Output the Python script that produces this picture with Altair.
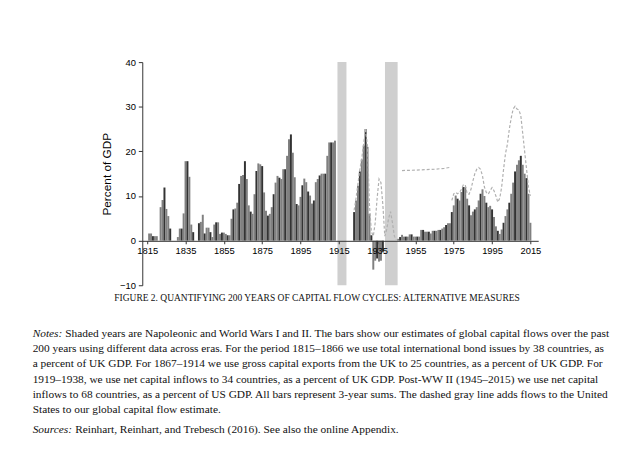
import altair as alt
import pandas as pd

# ---- data ----
years = list(range(1815, 2016))
bar_values = [
    # 1815-1824
    0, 1.6, 1.6, 1.0, 1.0, 1.0, 0, 7.5, 9.1, 11.9,
    # 1825-1834
    7.1, 5.5, 2.7, 0, 0, 0, 0.8, 2.7, 2.7, 6.1,
    # 1835-1844
    17.8, 17.8, 14.3, 3.6, 1.9, 0, 0, 3.9, 4.2, 5.8,
    # 1845-1854
    1.6, 2.9, 2.9, 1.9, 0.8, 3.6, 4.1, 4.1, 1.5, 1.8,
    # 1855-1864
    1.8, 1.5, 1.2, 1.2, 4.9, 7.0, 7.2, 8.5, 12.7, 14.5,
    # 1865-1874
    14.7, 17.8, 13.8, 7.9, 6.5, 6.0, 10.4, 15.6, 17.3, 17.1,
    # 1875-1884
    16.7, 10.8, 6.7, 5.6, 6.0, 7.5, 10.4, 13.0, 14.5, 14.1,
    # 1885-1894
    13.8, 16.0, 16.0, 19.0, 22.7, 23.8, 19.7, 14.2, 8.2, 7.9,
    # 1895-1904
    9.8, 12.4, 13.9, 13.1, 11.0, 10.1, 8.3, 9.0, 13.1, 13.8,
    # 1905-1914
    14.6, 15.0, 15.0, 15.0, 19.0, 22.0, 22.0, 22.0, 22.4, 0,
    # 1915-1924
    0, 0, 0, 0, 0, 0, 0, 0, 6.4, 9.0,
    # 1925-1934
    12.3, 15.5, 18.2, 21.3, 25.0, 21.0, 6.0, 1.2, -6.5, -4.5,
    # 1935-1944
    -4.0, -4.7, -4.5, -2.5, 0, 0, 0, 0, 0, 0,
    # 1945-1954
    0, 0.4, 0.8, 1.3, 0.9, 0.9, 0.9, 1.4, 1.4, 0.9,
    # 1955-1964
    0.9, 0.9, 0.9, 2.4, 2.4, 2.0, 2.0, 2.0, 1.6, 2.2,
    # 1965-1974
    2.2, 2.2, 2.4, 2.4, 2.7, 3.0, 3.5, 3.9, 3.9, 6.4,
    # 1975-1984
    7.9, 10.1, 9.4, 9.0, 10.9, 12.0, 12.0, 9.4, 7.9, 5.7,
    # 1985-1994
    6.5, 7.0, 7.5, 9.0, 10.5, 11.5, 10.0, 8.5, 7.5, 7.8,
    # 1995-2004
    7.0, 5.3, 3.2, 2.2, 1.5, 2.5, 4.0, 5.5, 7.0, 8.5,
    # 2005-2015
    10.5, 13.0, 15.5, 17.0, 18.0, 19.0, 17.0, 15.0, 14.0, 10.5, 4.0,
]

# dashed line (adds flows to the United States), in three segments
us_seg = (["a"] * 23) + (["b"] * 6) + (["c"] * 42)
us_years = (list(range(1923, 1946))
            + [1948, 1955, 1960, 1965, 1970, 1973]
            + list(range(1974, 2016)))
us_values = [
    6.8, 9.5, 12.8, 16.0, 18.5, 21.8, 25.2, 21.0, 8.0, 2.0, 1.0, 4.0,
    9.5, 13.8, 13.0, 8.0, 1.0, 2.5, 5.0, 6.5, 4.0, 1.0, 0.2,
    15.7, 15.8, 15.9, 16.0, 16.2, 16.4,
    9.0, 10.5, 10.8, 10.5, 10.8, 11.5, 12.5, 12.5, 10.5, 10.4,
    11.5, 13.4, 15.0, 16.0, 16.4, 16.0, 14.5, 12.0, 10.8, 10.4,
    11.2, 11.9, 11.2, 10.0, 8.6, 9.5, 12.0, 16.0, 19.5, 21.6,
    25.0, 27.5, 29.5, 30.1, 29.5, 29.3, 28.0, 24.0, 20.0, 16.0,
    12.0, 10.0,
]

war_start = [1914.3, 1939.1]
war_end = [1919.0, 1945.7]

x_ticks = list(range(1815, 2016, 20))
y_ticks = list(range(-10, 41, 5))

caption = "FIGURE 2. QUANTIFYING 200 YEARS OF CAPITAL FLOW CYCLES: ALTERNATIVE MEASURES"
notes_lines = [
    "Shaded years are Napoleonic and World Wars I and II. The bars show our estimates of global capital flows over the past",
    "200 years using different data across eras. For the period 1815–1866 we use total international bond issues by 38 countries, as",
    "a percent of UK GDP. For 1867–1914 we use gross capital exports from the UK to 25 countries, as a percent of UK GDP. For",
    "1919–1938, we use net capital inflows to 34 countries, as a percent of UK GDP. Post-WW II (1945–2015) we use net capital",
    "inflows to 68 countries, as a percent of US GDP. All bars represent 3-year sums. The dashed gray line adds flows to the United",
    "States to our global capital flow estimate.",
]
sources_text = "Reinhart, Reinhart, and Trebesch (2016). See also the online Appendix."

# ---- tables ----
bars_df = pd.DataFrame({"year": years, "value": bar_values})
us_df = pd.DataFrame({"year": us_years, "value": us_values, "seg": us_seg})
bands_df = pd.DataFrame({"start": war_start, "end": war_end})

W, H = 401, 226
SANS = "Liberation Sans"
SERIF = "Liberation Serif"

xscale = alt.Scale(domain=[1815, 2016.5], nice=False, zero=False)
yscale = alt.Scale(domain=[-10, 40], nice=False)

bands = alt.Chart(bands_df).mark_rect(color="#cfcfcf").encode(
    x=alt.X("start:Q", scale=xscale),
    x2="end:Q",
    y=alt.datum(-10, scale=yscale),
    y2=alt.datum(40),
)

bars = alt.Chart(bars_df).mark_bar(size=2).encode(
    x=alt.X(
        "year:Q",
        scale=xscale,
        axis=alt.Axis(
            values=x_ticks, format="d", offset=-45, title=None, grid=False,
            tickSize=3, labelPadding=2, labelFontSize=9.5, zindex=2,
        ),
    ),
    y=alt.Y(
        "value:Q",
        scale=yscale,
        axis=alt.Axis(
            values=y_ticks, title="Percent of GDP", grid=False,
            tickSize=4, labelPadding=3, labelFontSize=9.5,
            titleFontSize=12, titleFontWeight="normal", titlePadding=6, zindex=2,
        ),
    ),
    color=alt.condition("datum.year % 3 == 0", alt.value("#333333"), alt.value("#808080")),
)

us_line = alt.Chart(us_df).mark_line(
    strokeDash=[3, 2], color="#b0b0b0", strokeWidth=1.2
).encode(
    x=alt.X("year:Q", scale=xscale),
    y=alt.Y("value:Q", scale=yscale),
    detail="seg:N",
)

# ---- caption and notes ----
PLOT_X, PLOT_Y = 144, 62  # page position of plot origin


def txt(s, x, y, **kw):
    return alt.Chart(pd.DataFrame({"t": [s]})).mark_text(
        align=kw.pop("align", "left"), baseline="middle", **kw
    ).encode(text="t:N", x=alt.value(x - PLOT_X), y=alt.value(y - PLOT_Y))


layers = [bands, bars, us_line]
layers.append(txt(caption, 321, 301, align="center", font=SERIF, fontSize=9.6, color="#111"))

line_y = [337, 352.5, 368, 383.5, 399, 414.5]
FS = 11.5
layers.append(txt("Notes:", 33, line_y[0], font=SERIF, fontSize=FS, fontStyle="italic", color="#111"))
for i, (s, yy) in enumerate(zip(notes_lines, line_y)):
    xx = 33 + 33 if i == 0 else 33
    layers.append(txt(s, xx, yy, font=SERIF, fontSize=FS, color="#111"))
layers.append(txt("Sources:", 33, 435, font=SERIF, fontSize=FS, fontStyle="italic", color="#111"))
layers.append(txt(sources_text, 33 + 43, 435, font=SERIF, fontSize=FS, color="#111"))

chart = alt.layer(*layers).properties(
    width=W,
    height=H,
    autosize=alt.AutoSizeParams(type="none"),
    padding={"left": 136, "top": 52, "right": 95, "bottom": 160},
).configure_view(stroke=None).configure_axis(
    labelFont=SANS, titleFont=SANS, labelColor="black", titleColor="black",
    domainColor="#333", tickColor="#333", domainWidth=1,
)

chart.save("out.html", embed_options={"renderer": "svg", "actions": False})
